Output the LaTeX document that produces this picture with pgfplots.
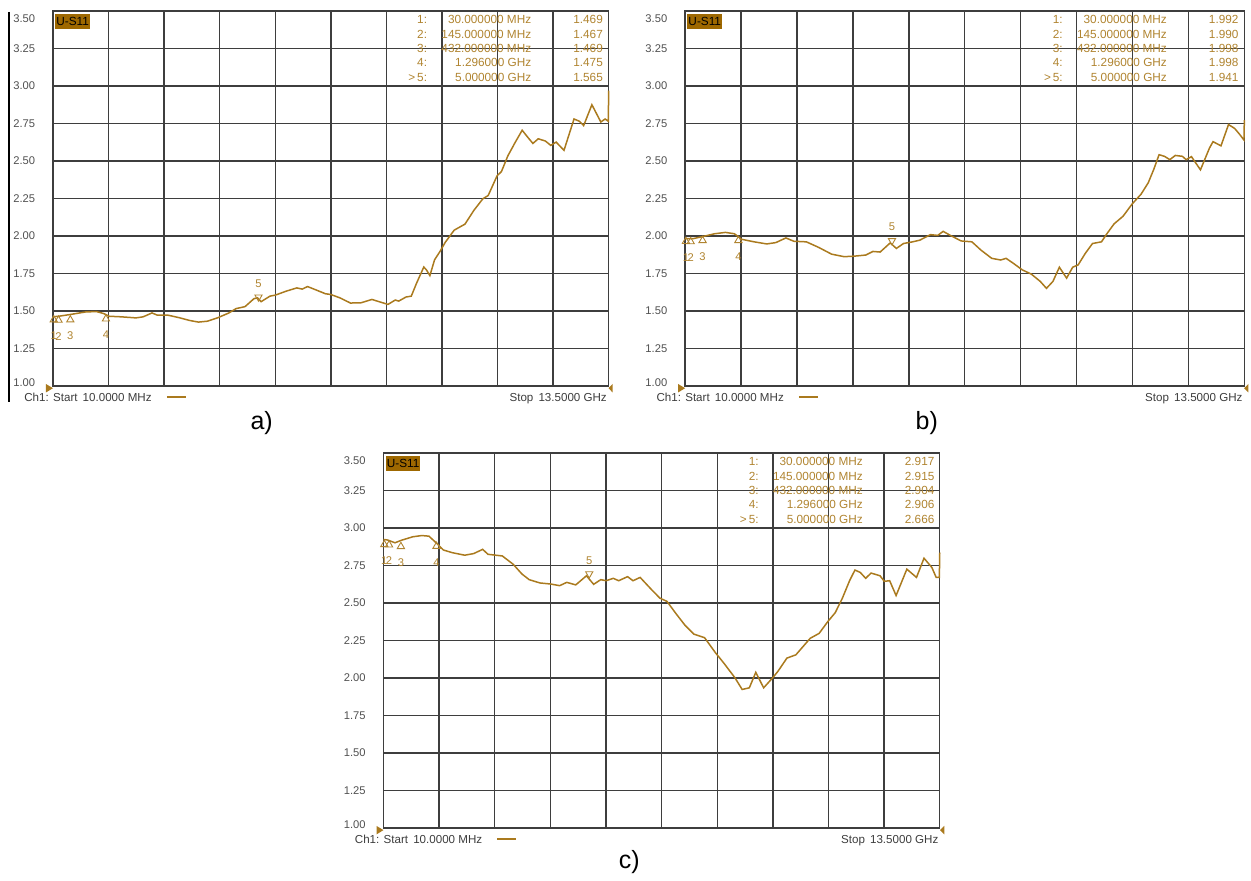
\documentclass[border=0pt]{standalone}
\usepackage{pgfplots}
\usepackage{pgfplotstable}
\pgfplotsset{compat=1.18}
\usepackage{fontspec}
\setmainfont{Liberation Sans}

\definecolor{trace}{RGB}{170,122,30}
\definecolor{mk}{RGB}{176,132,48}
\definecolor{usbox}{RGB}{158,104,0}
\definecolor{gridc}{RGB}{62,62,62}
\definecolor{tickc}{RGB}{80,80,80}
\definecolor{botc}{RGB}{60,60,60}

\pgfplotstableread{
f v
0.010 1.461
0.201 1.467
0.461 1.478
0.809 1.494
1.069 1.496
1.243 1.483
1.373 1.465
1.677 1.461
2.024 1.454
2.198 1.461
2.415 1.487
2.545 1.472
2.805 1.472
3.066 1.456
3.326 1.437
3.543 1.426
3.760 1.432
4.020 1.456
4.281 1.487
4.455 1.516
4.672 1.529
4.889 1.582
4.976 1.588
5.062 1.562
5.149 1.577
5.279 1.599
5.410 1.606
5.670 1.632
5.930 1.654
6.061 1.646
6.191 1.663
6.408 1.639
6.625 1.615
6.755 1.610
6.972 1.588
7.232 1.553
7.493 1.555
7.753 1.577
7.927 1.562
8.144 1.544
8.318 1.573
8.404 1.566
8.578 1.593
8.708 1.599
8.839 1.687
9.012 1.793
9.073 1.775
9.160 1.736
9.273 1.841
9.403 1.896
9.533 1.958
9.750 2.039
10.011 2.079
10.228 2.171
10.445 2.248
10.575 2.270
10.792 2.402
10.896 2.429
11.052 2.534
11.226 2.622
11.400 2.705
11.530 2.660
11.660 2.617
11.790 2.648
11.964 2.633
12.094 2.604
12.224 2.626
12.415 2.571
12.658 2.780
12.788 2.765
12.892 2.736
13.092 2.875
13.309 2.760
13.413 2.780
13.465 2.770
13.490 2.765
13.500 2.969
}\dataA

\pgfplotstableread{
f v
0.010 1.982
0.201 1.982
0.461 1.998
0.722 2.015
0.982 2.024
1.199 2.015
1.373 1.978
1.677 1.961
1.981 1.947
2.198 1.956
2.441 1.987
2.632 1.965
2.936 1.961
3.239 1.923
3.543 1.879
3.847 1.862
4.107 1.866
4.368 1.873
4.542 1.897
4.715 1.893
4.958 1.954
5.106 1.917
5.279 1.950
5.496 1.961
5.670 1.972
5.930 2.009
6.104 2.004
6.234 2.031
6.408 2.004
6.668 1.967
6.929 1.961
7.146 1.906
7.406 1.851
7.623 1.840
7.753 1.851
7.927 1.818
8.144 1.774
8.361 1.746
8.578 1.697
8.726 1.651
8.882 1.697
9.038 1.792
9.212 1.719
9.359 1.792
9.490 1.807
9.663 1.884
9.837 1.950
10.054 1.961
10.184 2.015
10.358 2.081
10.575 2.132
10.792 2.213
11.009 2.279
11.182 2.355
11.313 2.443
11.443 2.542
11.573 2.531
11.703 2.509
11.834 2.537
12.007 2.531
12.094 2.509
12.224 2.529
12.441 2.441
12.658 2.586
12.745 2.629
12.936 2.601
13.118 2.743
13.266 2.717
13.379 2.680
13.490 2.640
13.500 2.772
}\dataB

\pgfplotstableread{
f v
0.010 2.923
0.114 2.919
0.288 2.901
0.461 2.919
0.722 2.941
0.939 2.949
1.112 2.945
1.286 2.901
1.460 2.853
1.677 2.835
1.981 2.818
2.198 2.829
2.415 2.857
2.545 2.824
2.892 2.813
3.153 2.758
3.370 2.692
3.543 2.655
3.804 2.633
4.064 2.626
4.281 2.615
4.455 2.637
4.672 2.620
4.932 2.681
5.106 2.624
5.279 2.655
5.410 2.648
5.583 2.664
5.713 2.648
5.930 2.675
6.061 2.648
6.234 2.670
6.495 2.593
6.712 2.532
6.885 2.510
7.102 2.429
7.319 2.352
7.536 2.292
7.797 2.268
8.057 2.169
8.274 2.095
8.535 2.000
8.708 1.923
8.882 1.934
9.038 2.037
9.229 1.934
9.446 2.000
9.576 2.044
9.793 2.132
10.011 2.154
10.358 2.264
10.575 2.297
10.792 2.378
10.965 2.435
11.139 2.532
11.313 2.648
11.443 2.719
11.573 2.703
11.703 2.664
11.834 2.699
12.051 2.681
12.155 2.644
12.285 2.648
12.441 2.549
12.702 2.725
12.936 2.670
13.118 2.798
13.309 2.736
13.413 2.670
13.490 2.670
13.500 2.835
}\dataC

\pgfplotstableread{
f v lab
0.030 1.469 1
0.145 1.467 2
0.432 1.469 3
1.296 1.475 4
}\mkA
\pgfplotstableread{
f v lab
5.000 1.565 5
}\mkAf
\pgfplotstableread{
f v lab
0.030 1.992 1
0.145 1.990 2
0.432 1.998 3
1.296 1.998 4
}\mkB
\pgfplotstableread{
f v lab
5.000 1.941 5
}\mkBf
\pgfplotstableread{
f v lab
0.030 2.917 1
0.145 2.915 2
0.432 2.904 3
1.296 2.906 4
}\mkC
\pgfplotstableread{
f v lab
5.000 2.666 5
}\mkCf

\newcommand{\mkfont}{\fontsize{5.6}{6}\selectfont}

\pgfplotsset{
 vna/.style={
  anchor=south west, scale only axis, height=187.75pt,
  xmin=0.01, xmax=13.5, ymin=1, ymax=3.5,
  clip=false,
  xtick={0.01,1.359,2.708,4.057,5.406,6.755,8.104,9.453,10.802,12.151,13.5},
  xticklabels={},
  ytick={1,1.25,1.5,1.75,2,2.25,2.5,2.75,3,3.25,3.5},
  yticklabels={\raisebox{1.5pt}[\height][\depth]{1.00},1.25,1.50,1.75,2.00,2.25,2.50,2.75,3.00,3.25,\raisebox{-4pt}[\height][\depth]{3.50}},
  yticklabel style={anchor=east, inner sep=0pt, xshift=-8.75pt, text=tickc, font=\fontsize{5.6}{6}\selectfont},
  grid=major,
  major grid style={gridc, line width=0.7pt},
  axis line style={gridc, line width=0.7pt},
  major tick length=0pt,
  tick style={draw=none},
 },
 tr/.style={trace, line width=0.75pt},
 mkup/.style={only marks, mark=triangle, mark size=2.1pt, color=mk,
  mark options={yshift=-2.1pt, line width=0.45pt},
  nodes near coords, point meta=explicit symbolic,
  every node near coord/.append style={anchor=center, yshift=-8pt, font=\mkfont, text=mk, inner sep=0pt}},
 mkdown/.style={only marks, mark=triangle, mark size=2.1pt, color=mk,
  mark options={yshift=2.1pt, rotate=180, line width=0.45pt},
  nodes near coords, point meta=explicit symbolic,
  every node near coord/.append style={anchor=center, yshift=6.8pt, font=\mkfont, text=mk, inner sep=0pt}},
}

\tikzset{
 tab/.style={anchor=base east, inner sep=0pt, text=mk, font=\fontsize{5.9}{6}\selectfont},
 bot/.style={inner sep=0pt, text=botc, font=\fontsize{5.8}{6}\selectfont},
}

% #1 ox, #2 oy, #3 right extra, #4..#8 values
\newcommand{\vnadeco}[8]{%
\begin{scope}[shift={(#1,#2)}]
 \node[fill=usbox, text=black, inner xsep=0.5pt, inner ysep=0pt, minimum height=7.8pt, anchor=north west, font=\fontsize{5.9}{6}\selectfont] at (55,13.3) {U-S11};
 \node[bot, anchor=base west] at (24,402.5) {Ch1: Start\, 10.0000 MHz};
 \draw[trace, line width=1pt] (167,397.7) -- (186,397.7);
 \fill[trace] (46,384.5) -- (46,393) -- (53,388.7) -- cycle;
 \begin{scope}[shift={(#3,0)}]
 \node[tab] at (428,24) {1:};
 \node[tab] at (532.3,24) {30.000000 MHz};
 \node[tab] at (604,24) {#4};
 \node[tab] at (428,38.3) {2:};
 \node[tab] at (532.3,38.3) {145.000000 MHz};
 \node[tab] at (604,38.3) {#5};
 \node[tab] at (428,52.5) {3:};
 \node[tab] at (532.3,52.5) {432.000000 MHz};
 \node[tab] at (604,52.5) {#6};
 \node[tab] at (428,66.8) {4:};
 \node[tab] at (532.3,66.8) {1.296000 GHz};
 \node[tab] at (604,66.8) {#7};
 \node[tab] at (428,81.5) {>\,5:};
 \node[tab] at (532.3,81.5) {5.000000 GHz};
 \node[tab] at (604,81.5) {#8};
 \node[bot, anchor=base east] at (608,402.5) {Stop\, 13.5000 GHz};
 \fill[trace] (613.5,384.5) -- (613.5,393) -- (609.3,388.7) -- cycle;
 \end{scope}
\end{scope}}

\begin{document}
\begin{tikzpicture}
\begin{scope}[x=0.5pt,y=-0.5pt]
\path[use as bounding box] (0,0) rectangle (1251,877);
\draw[black, line width=1pt] (9.3,12) -- (9.3,403);
\end{scope}

\begin{axis}[vna, at={(26.5pt,-193.25pt)}, width=278.25pt]
\addplot[tr] table {\dataA};
\addplot[mkup] table[meta=lab] {\mkA};
\addplot[mkdown] table[meta=lab] {\mkAf};
\end{axis}

\begin{axis}[vna, at={(343pt,-193.25pt)}, width=280pt]
\addplot[tr] table {\dataB};
\addplot[mkup] table[meta=lab] {\mkB};
\addplot[mkdown] table[meta=lab] {\mkBf};
\end{axis}

\begin{axis}[vna, at={(192pt,-414.5pt)}, width=278.5pt]
\addplot[tr] table {\dataC};
\addplot[mkup] table[meta=lab] {\mkC};
\addplot[mkdown] table[meta=lab] {\mkCf};
\end{axis}

\begin{scope}[x=0.5pt,y=-0.5pt]
\vnadeco{0}{0}{0}{1.469}{1.467}{1.469}{1.475}{1.565}
\vnadeco{633}{0}{3.5}{1.992}{1.990}{1.998}{1.998}{1.941}
\vnadeco{331}{442.5}{1}{2.917}{2.915}{2.904}{2.906}{2.666}
\node[font=\fontsize{12.5}{14}\selectfont] at (262,424) {a)};
\node[font=\fontsize{12.5}{14}\selectfont] at (928,424) {b)};
\node[font=\fontsize{12.5}{14}\selectfont] at (630,863) {c)};
\end{scope}
\end{tikzpicture}
\end{document}
